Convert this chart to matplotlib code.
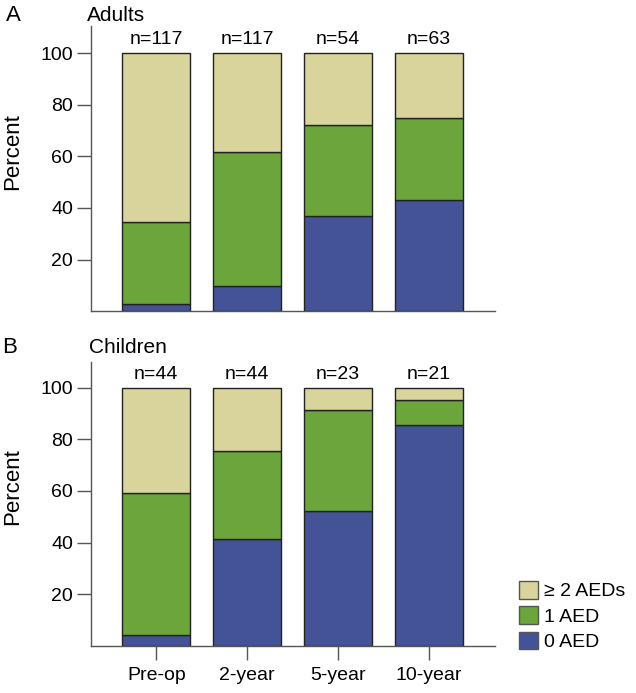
import numpy as np
import matplotlib
matplotlib.use('Agg')
import matplotlib.pyplot as plt
from matplotlib.patches import Patch

plt.rcParams['font.family'] = ['Liberation Sans', 'DejaVu Sans']

# data (percent)
timepoints = ['Pre-op', '2-year', '5-year', '10-year']
adults_n = [117, 117, 54, 63]
adults_0aed = [2.7, 9.8, 36.9, 42.9]
adults_1aed = [31.7, 51.8, 35.1, 31.8]
adults_2aed = [65.6, 38.4, 28.0, 25.3]

children_n = [44, 44, 23, 21]
children_0aed = [4.4, 41.3, 52.1, 85.6]
children_1aed = [54.7, 34.1, 39.2, 9.7]
children_2aed = [40.9, 24.6, 8.7, 4.7]

col_2 = '#d9d39c'
col_1 = '#6ba53c'
col_0 = '#445398'
axis_col = '#555555'

fig = plt.figure(figsize=(6.36, 6.93), dpi=100)
ax1 = fig.add_axes([0.143, 0.551, 0.635, 0.4115])
ax2 = fig.add_axes([0.143, 0.068, 0.635, 0.410])

x = np.arange(len(timepoints))


def draw_panel(ax, zero, one, two, ns, top):
	zero = np.array(zero)
	one = np.array(one)
	two = np.array(two)
	kw = dict(width=0.75, edgecolor='#222222', linewidth=1.0)
	ax.bar(x, zero, color=col_0, **kw)
	ax.bar(x, one, bottom=zero, color=col_1, **kw)
	ax.bar(x, two, bottom=zero + one, color=col_2, **kw)
	for xi, n in zip(x, ns):
		ax.text(xi, 101.8, 'n=%d' % n, ha='center', va='bottom', fontsize=14)
	ax.set_xlim(-0.72, 3.73)
	ax.set_ylim(0, top)
	ax.set_yticks([20, 40, 60, 80, 100])
	ax.tick_params(axis='y', length=10, width=1, color=axis_col, labelsize=14, pad=3)
	ax.set_ylabel('Percent', fontsize=16)
	ax.yaxis.set_label_coords(-0.168, 0.56)
	for s in ['top', 'right']:
		ax.spines[s].set_visible(False)
	for s in ['left', 'bottom']:
		ax.spines[s].set_color(axis_col)
		ax.spines[s].set_linewidth(1)


draw_panel(ax1, adults_0aed, adults_1aed, adults_2aed, adults_n, 110.5)
draw_panel(ax2, children_0aed, children_1aed, children_2aed, children_n, 110)

ax1.set_xticks([])
ax2.set_xticks(x)
ax2.set_xticklabels(timepoints, fontsize=14)
ax2.tick_params(axis='x', length=10, width=1, color=axis_col, pad=5)

fig.text(0.010, 0.978, 'A', fontsize=16, va='center', ha='left')
fig.text(0.137, 0.978, 'Adults', fontsize=15, va='center', ha='left')
fig.text(0.004, 0.499, 'B', fontsize=16, va='center', ha='left')
fig.text(0.140, 0.499, 'Children', fontsize=15, va='center', ha='left')

handles = [Patch(facecolor=col_2, edgecolor='#555555', label='\u2265 2 AEDs'),
	Patch(facecolor=col_1, edgecolor='#555555', label='1 AED'),
	Patch(facecolor=col_0, edgecolor='#555555', label='0 AED')]
ax2.legend(handles=handles, loc='lower left', bbox_to_anchor=(1.04, -0.045),
	frameon=False, fontsize=14, handlelength=1.0, handleheight=1.0,
	handletextpad=0.3, labelspacing=0.3, borderaxespad=0)

fig.savefig('out.png', dpi=100)
